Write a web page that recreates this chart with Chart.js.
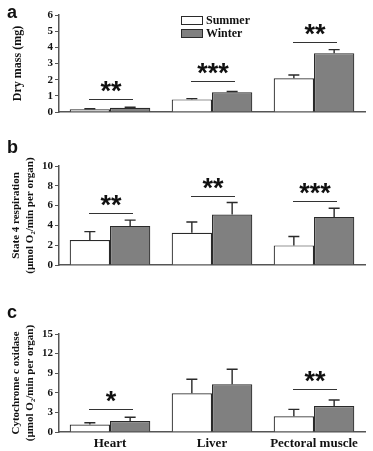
<!DOCTYPE html>
<html>
<head>
<meta charset="utf-8">
<script src="https://cdn.jsdelivr.net/npm/chart.js@4.4.1/dist/chart.umd.min.js"></script>
<style>
body{margin:0;background:#fff;}
#wrap{position:relative;width:373px;height:451px;overflow:hidden;}
canvas{position:absolute;left:0;}
</style>
</head>
<body>
<div id="wrap">
<canvas id="chartMasa" width="373" height="140" style="top:0"></canvas>
<canvas id="chartResp" width="373" height="160" style="top:140px"></canvas>
<canvas id="chartCox" width="373" height="151" style="top:300px"></canvas>
</div>
<script>
/*
==========================================
DATOS
==========================================
*/

const organos = ["Heart", "Liver", "Pectoral muscle"];

// a - dry mass (mg)
const masaVerano = [0.17, 0.78, 2.08];
const masaVeranoErr = [0.03, 0.05, 0.21];
const masaInvierno = [0.26, 1.22, 3.64];
const masaInviernoErr = [0.03, 0.05, 0.22];
const masaSig = ["**", "***", "**"];
const masaSigNivel = [0.8, 1.9, 4.3];
const masaTicks = [0, 1, 2, 3, 4, 5, 6];

// b - state 4 respiration
const respVerano = [2.52, 3.25, 1.98];
const respVeranoErr = [0.85, 1.1, 0.9];
const respInvierno = [3.95, 5.1, 4.86];
const respInviernoErr = [0.58, 1.22, 0.87];
const respSig = ["**", "**", "***"];
const respSigNivel = [5.3, 7.0, 6.5];
const respTicks = [0, 2, 4, 6, 8, 10];

// c - cytochrome c oxidase
const coxVerano = [1.15, 5.93, 2.4];
const coxVeranoErr = [0.27, 2.15, 1.07];
const coxInvierno = [1.68, 7.3, 3.98];
const coxInviernoErr = [0.57, 2.3, 0.92];
const coxSig = ["*", "", "**"];
const coxSigNivel = [3.5, 0, 6.6];
const coxTicks = [0, 3, 6, 9, 12, 15];

/*
==========================================
ESTILOS
==========================================
*/

const SERIF = "'Liberation Serif', 'Times New Roman', serif";
const SANS = "'Liberation Sans', Arial, sans-serif";
const INK = "#2a2a2a";

/*
==========================================
PLUGIN: BARRAS DE ERROR, SIGNIFICANCIA, LETRA
==========================================
*/

const extrasPlugin = {
    id: "extras",
    afterDatasetsDraw(chart, args, opts){

        const ctx = chart.ctx;
        const yScale = chart.scales.y;
        const xScale = chart.scales.x;

        ctx.save();

        // barras de error (solo hacia arriba)
        chart.data.datasets.forEach((ds, i) => {
            const meta = chart.getDatasetMeta(i);
            meta.data.forEach((bar, j) => {
                const yTop = yScale.getPixelForValue(ds.data[j] + ds.errores[j]);
                ctx.strokeStyle = INK;
                ctx.lineWidth = 1.4;
                ctx.beginPath();
                ctx.moveTo(bar.x, bar.y);
                ctx.lineTo(bar.x, yTop);
                ctx.moveTo(bar.x - 5.5, yTop);
                ctx.lineTo(bar.x + 5.5, yTop);
                ctx.stroke();
            });
        });

        // lineas y asteriscos
        opts.sig.forEach((txt, j) => {
            if(!txt) return;
            const cx = xScale.getPixelForValue(j) + 1;
            const ly = Math.round(yScale.getPixelForValue(opts.nivel[j])) + 0.5;
            ctx.strokeStyle = "#333";
            ctx.lineWidth = 1;
            ctx.beginPath();
            ctx.moveTo(cx - 22, ly);
            ctx.lineTo(cx + 22, ly);
            ctx.stroke();

            ctx.font = "bold 27px " + SANS;
            ctx.fillStyle = "#111";
            ctx.textAlign = "center";
            ctx.textBaseline = "alphabetic";
            const m = ctx.measureText(txt);
            const target = ly - 13;
            const base = target + (m.actualBoundingBoxAscent - m.actualBoundingBoxDescent) / 2;
            ctx.fillText(txt, cx, base);
        });

        // letra del panel
        ctx.font = "bold 18px " + SANS;
        ctx.fillStyle = "#111";
        ctx.textAlign = "left";
        ctx.textBaseline = "alphabetic";
        ctx.fillText(opts.letra, 7, opts.letraY);

        // leyenda
        if(opts.leyenda){
            chart.data.datasets.forEach((ds, i) => {
                const by = 16 + i * 13;
                ctx.fillStyle = ds.backgroundColor;
                ctx.fillRect(181, by, 22, 9);
                ctx.strokeStyle = INK;
                ctx.lineWidth = 1;
                ctx.strokeRect(181.5, by + 0.5, 21, 8);
                ctx.font = "bold 12px " + SERIF;
                ctx.fillStyle = "#111";
                ctx.textBaseline = "middle";
                ctx.fillText(ds.label, 206, by + 5);
            });
        }

        ctx.restore();
    }
};

/*
==========================================
CONSTRUCTOR
==========================================
*/

function crearPanel(id, cfg){

    const canvas = document.getElementById(id);

    return new Chart(canvas, {
        type: "bar",
        data: {
            labels: organos,
            datasets: [
                {
                    label: "Summer",
                    data: cfg.verano,
                    errores: cfg.veranoErr,
                    backgroundColor: "#ffffff",
                    borderColor: INK,
                    borderWidth: 1.2,
                    barPercentage: 1,
                    categoryPercentage: 0.79
                },
                {
                    label: "Winter",
                    data: cfg.invierno,
                    errores: cfg.inviernoErr,
                    backgroundColor: "#808080",
                    borderColor: INK,
                    borderWidth: 1.2,
                    barPercentage: 1,
                    categoryPercentage: 0.79
                }
            ]
        },
        options: {
            responsive: false,
            animation: false,
            layout: {
                padding: { left: 0, right: 8, top: cfg.top, bottom: 0 }
            },
            plugins: {
                legend: { display: false },
                tooltip: { enabled: false },
                extras: {
                    sig: cfg.sig,
                    nivel: cfg.nivel,
                    letra: cfg.letra,
                    letraY: cfg.letraY,
                    leyenda: cfg.leyenda
                }
            },
            scales: {
                x: {
                    grid: { drawOnChartArea: false, drawTicks: false },
                    border: { color: "#555", width: 1.5 },
                    ticks: {
                        display: cfg.etiquetas,
                        color: "#111",
                        padding: 4,
                        font: { family: SERIF, size: 13, weight: "bold" }
                    },
                    afterFit(scale){ scale.height = cfg.abajo; }
                },
                y: {
                    min: 0,
                    max: cfg.ticks[cfg.ticks.length - 1],
                    afterBuildTicks(scale){
                        scale.ticks = cfg.ticks.map(v => ({ value: v }));
                    },
                    grid: { drawOnChartArea: false, drawTicks: true, tickLength: 4, color: "#555" },
                    border: { color: "#555", width: 1.5 },
                    ticks: {
                        autoSkip: false,
                        color: "#111",
                        padding: 2,
                        font: { family: SERIF, size: 11, weight: "bold" }
                    },
                    title: {
                        display: true,
                        text: cfg.titulo,
                        color: "#111",
                        padding: { top: cfg.tituloPad, bottom: 0 },
                        font: { family: SERIF, size: cfg.tituloSize, weight: "bold" }
                    },
                    afterFit(scale){ scale.width = 59; }
                }
            }
        },
        plugins: [extrasPlugin]
    });

}

/*
==========================================
RENDER
==========================================
*/

crearPanel("chartMasa", {
    verano: masaVerano, veranoErr: masaVeranoErr,
    invierno: masaInvierno, inviernoErr: masaInviernoErr,
    sig: masaSig, nivel: masaSigNivel, ticks: masaTicks,
    titulo: "Dry mass (mg)", tituloSize: 12, tituloPad: 11,
    top: 15, abajo: 28, letra: "a", letraY: 18,
    leyenda: true, etiquetas: false
});

crearPanel("chartResp", {
    verano: respVerano, veranoErr: respVeranoErr,
    invierno: respInvierno, inviernoErr: respInviernoErr,
    sig: respSig, nivel: respSigNivel, ticks: respTicks,
    titulo: ["State 4 respiration", "(\u00b5mol O\u2082/min per organ)"], tituloSize: 11, tituloPad: 10,
    top: 26, abajo: 35, letra: "b", letraY: 13,
    leyenda: false, etiquetas: false
});

crearPanel("chartCox", {
    verano: coxVerano, veranoErr: coxVeranoErr,
    invierno: coxInvierno, inviernoErr: coxInviernoErr,
    sig: coxSig, nivel: coxSigNivel, ticks: coxTicks,
    titulo: ["Cytochrome c oxidase", "(\u00b5mol O\u2082/min per organ)"], tituloSize: 11, tituloPad: 10,
    top: 34, abajo: 19, letra: "c", letraY: 18,
    leyenda: false, etiquetas: true
});
</script>
</body>
</html>
